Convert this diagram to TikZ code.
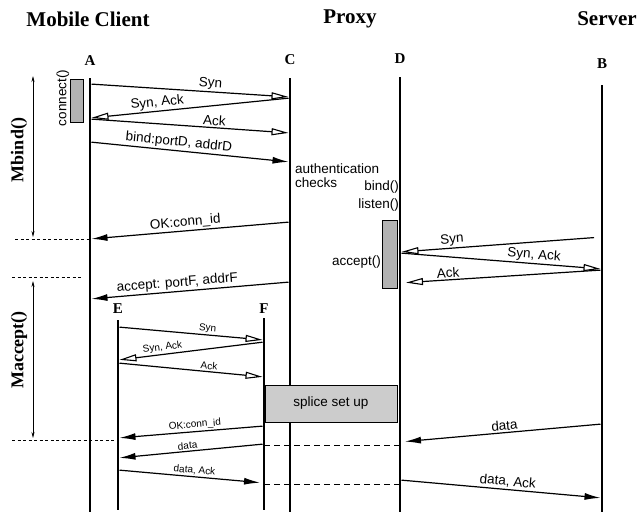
\documentclass[tikz,border=0pt]{standalone}
\usepackage{fontspec}
\setmainfont{Liberation Serif}
\setsansfont{Liberation Sans}
\usetikzlibrary{arrows.meta, calc, positioning}

\begin{document}
\begin{tikzpicture}[x=1pt, y=-1pt, >=Latex]
	\tikzstyle{title} = [font=\bfseries\fontsize{21}{24}\selectfont]
	\tikzstyle{letter} = [font=\bfseries\fontsize{15}{18}\selectfont, inner sep=1pt]
	\tikzstyle{side} = [font=\bfseries\fontsize{18}{20}\selectfont, rotate=90]
	\tikzstyle{life} = [line width=2.6pt]
	\tikzstyle{msg} = [line width=1.2pt, shorten >=1.5pt, shorten <=1.5pt]
	\tikzstyle{opn} = [msg, -{Triangle[open, length=17pt, width=7pt, line width=1.1pt]}]
	\tikzstyle{sld} = [msg, -{Latex[length=16pt, width=7pt]}]
	\tikzstyle{lab} = [font=\sffamily\fontsize{13.5}{15}\selectfont, sloped, above, inner sep=1.5pt]
	\tikzstyle{slab} = [lab, font=\sffamily\fontsize{10}{12}\selectfont]
	\tikzstyle{txt} = [font=\sffamily\fontsize{13.5}{14}\selectfont, inner sep=0pt]
	\tikzstyle{box} = [draw, line width=0.8pt, fill=black!30, inner sep=0pt]
	\tikzstyle{span} = [line width=0.7pt, {Stealth[length=6pt, width=3pt]}-{Stealth[length=6pt, width=3pt]}]
	\tikzstyle{guide} = [line width=0.8pt, dash pattern=on 3pt off 2.5pt]
	\tikzstyle{relay} = [line width=1pt, dash pattern=on 6pt off 4pt]

	\useasboundingbox (0,0) rectangle (641,512);

	% headings and lifeline names
	\node[title] (client) at (88,19) {Mobile Client};
	\node[title] (proxy) at (350,19) {Proxy};
	\node[title] (server) at (607,19) {Server};

	\node[letter] (A) at (90,61) {A};
	\node[letter] (C) at (290,60) {C};
	\node[letter] (D) at (400,59) {D};
	\node[letter] (B) at (602,64) {B};
	\node[letter] (E) at (118,309) {E};
	\node[letter] (F) at (264,309) {F};

	% lifelines
	\draw[life] (A |- 0,78) -- (A |- 0,512);
	\draw[life] (C |- 0,78) -- (C |- 0,512);
	\draw[life] (D |- 0,77) -- (D |- 0,512);
	\draw[life] (B |- 0,85) -- (B |- 0,512);
	\draw[life] (E |- 0,320) -- (E |- 0,510);
	\draw[life] (F |- 0,318) -- (F |- 0,510);

	% busy boxes
	\node[box, minimum width=13pt, minimum height=43pt] (conn) at (76.5,100.5) {};
	\node[txt, rotate=90] (connlab) at (63,98) {connect()};
	\node[box, minimum width=15pt, minimum height=68pt] (acc) at (389.5,254) {};
	\node[txt, anchor=east] (acclab) at (381,262) {accept()};

	% proxy side notes
	\node[txt, anchor=north west, align=left] (auth) at (295,164) {authentication\\checks};
	\node[txt, anchor=east] (bindlab) at (399,187) {bind()};
	\node[txt, anchor=east] (listenlab) at (399,205) {listen()};

	% Mbind() / Maccept() spans
	\coordinate (mb1) at (33,76);
	\coordinate (mb2) at (33,237);
	\coordinate (ma1) at (33,281);
	\coordinate (ma2) at (33,438);
	\draw[span] (mb1) -- (mb2);
	\draw[span] (ma1) -- (ma2);
	\node[side] (mbind) at (19,150) {Mbind()};
	\node[side] (maccept) at (19,350) {Maccept()};

	\coordinate (g1) at (15,239);
	\coordinate (g2) at (12,277);
	\coordinate (g3) at (83,277);
	\coordinate (g4) at (12,440);
	\draw[guide] (g1) -- (A |- g1);
	\draw[guide] (g2) -- (g3);
	\draw[guide] (g4) -- ([xshift=-4pt]E |- g4);

	% client <-> proxy
	\path
		(A |- 0,84) edge[opn] node[lab, pos=0.6] {Syn} (C |- 0,97)
		(C |- 0,98) edge[opn] node[lab, pos=0.66] {Syn, Ack} (A |- 0,118)
		(A |- 0,119) edge[opn] node[lab, pos=0.62] {Ack} (C |- 0,133)
		(A |- 0,142) edge[sld] node[lab, pos=0.44] {bind:portD, addrD} (C |- 0,162)
		(C |- 0,222) edge[sld] node[lab, pos=0.52] {OK:conn\_id} (A |- 0,239)
		(C |- 0,282) edge[sld] node[lab, pos=0.56] {accept: portF, addrF} (A |- 0,299)
	;

	% proxy <-> server
	\path
		(B |- 0,237) edge[opn, shorten <=8pt] node[lab, pos=0.74] {Syn} (D |- 0,252)
		(D |- 0,253) edge[opn] node[lab, pos=0.66] {Syn, Ack} (B |- 0,269)
		(B |- 0,270) edge[opn, shorten >=6pt] node[lab, pos=0.76] {Ack} (D |- 0,283)
		(B |- 0,424) edge[sld, shorten >=5pt] node[lab, pos=0.48] {data} (D |- 0,442)
		(D |- 0,480) edge[sld] node[lab, pos=0.53] {data, Ack} (B |- 0,498)
	;

	% spliced connection
	\node[box, fill=black!20, minimum width=132pt, minimum height=37pt,
		font=\sffamily\fontsize{13.5}{15}\selectfont] (splice) at (331,403.5) {splice set up};

	\path
		(E |- 0,327) edge[opn] node[slab, pos=0.61] {Syn} (F |- 0,340)
		(F |- 0,342) edge[opn] node[slab, pos=0.69] {Syn, Ack} (E |- 0,360)
		(E |- 0,363) edge[opn] node[slab, pos=0.62] {Ack} (F |- 0,377)
		(F |- 0,426) edge[sld] node[slab, pos=0.47] {OK:conn\_id} (E |- 0,438)
		(F |- 0,444) edge[sld] node[slab, pos=0.52] {data} (E |- 0,458)
		(E |- 0,470) edge[sld, shorten >=4pt] node[slab, pos=0.52] {data, Ack} (F |- 0,483)
		(F |- 0,445) edge[relay] (D |- 0,445)
		(F |- 0,484) edge[relay] (D |- 0,484)
	;
\end{tikzpicture}
\end{document}
